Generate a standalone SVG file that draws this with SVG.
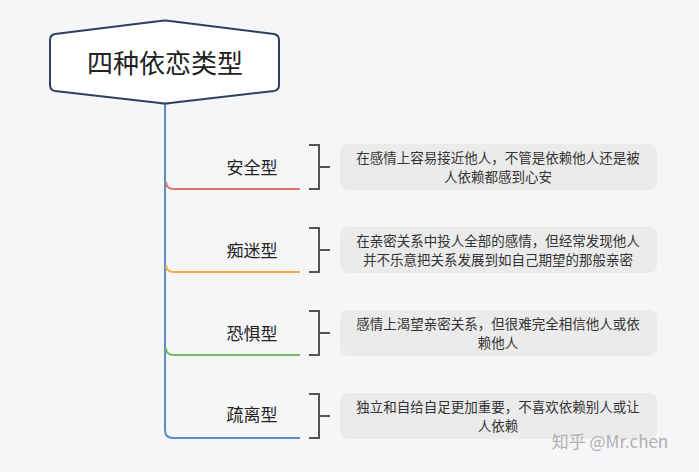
<svg xmlns="http://www.w3.org/2000/svg" width="699" height="472" viewBox="0 0 699 472">
<style>
text{font-family:"Noto Sans CJK SC","Liberation Sans",sans-serif;fill:#222}
.lb{font-size:17px;text-anchor:middle}
.d{font-size:13.5px;text-anchor:middle;fill:#333}
.bx{fill:#ebebeb}
.br{fill:none;stroke:#555;stroke-width:2}
.ln{fill:none;stroke-width:2}
</style>
<rect width="699" height="472" fill="#f5f6f8"/>
<g id="connectors">
<path class="ln" d="M165 104 V430 Q165 438 173 438 H300" stroke="#5b8fc3" stroke-width="3"/>
<path class="ln" d="M166 182 Q166 189 174 189 H300" stroke="#e57368"/>
<path class="ln" d="M166 265 Q166 272 174 272 H300" stroke="#f2b13c"/>
<path class="ln" d="M166 348 Q166 355 174 355 H300" stroke="#72c05a"/>
</g>
<g id="root">
<path d="M55 34 L160 21 Q165 20 170 21 L274 34 Q279 35 279 40 V85 Q279 90 274 91 L170 103 Q165 104 160 103 L55 91 Q50 90 50 85 V40 Q50 35 55 34 Z" fill="#fff" stroke="#2e4060" stroke-width="2"/>
<text x="165" y="73" font-size="26" text-anchor="middle">四种依恋类型</text>
</g>
<g id="n1">
<text class="lb" x="252" y="174">安全型</text>
<path class="br" d="M309 145 H319 V189 H309 M319 167 H330"/>
<rect class="bx" x="340" y="144" width="317" height="46" rx="8"/>
<text class="d" x="498" y="163">在感情上容易接近他人，不管是依赖他人还是被</text>
<text class="d" x="498" y="182">人依赖都感到心安</text>
</g>
<g id="n2">
<text class="lb" x="252" y="257">痴迷型</text>
<path class="br" d="M309 228 H319 V272 H309 M319 250 H330"/>
<rect class="bx" x="340" y="227" width="317" height="46" rx="8"/>
<text class="d" x="498" y="246">在亲密关系中投人全部的感情，但经常发现他人</text>
<text class="d" x="498" y="265">并不乐意把关系发展到如自己期望的那般亲密</text>
</g>
<g id="n3">
<text class="lb" x="252" y="340">恐惧型</text>
<path class="br" d="M309 311 H319 V355 H309 M319 333 H330"/>
<rect class="bx" x="340" y="310" width="317" height="46" rx="8"/>
<text class="d" x="498" y="329">感情上渴望亲密关系，但很难完全相信他人或依</text>
<text class="d" x="498" y="348">赖他人</text>
</g>
<g id="n4">
<text class="lb" x="252" y="421">疏离型</text>
<path class="br" d="M309 394 H319 V438 H309 M319 416 H330"/>
<rect class="bx" x="340" y="393" width="317" height="46" rx="8"/>
<text class="d" x="498" y="412">独立和自给自足更加重要，不喜欢依赖别人或让</text>
<text class="d" x="498" y="431">人依赖</text>
</g>
<text x="610" y="448" font-size="17" text-anchor="middle" style="fill:#b0b0b0">知乎 @Mr.chen</text>
</svg>
